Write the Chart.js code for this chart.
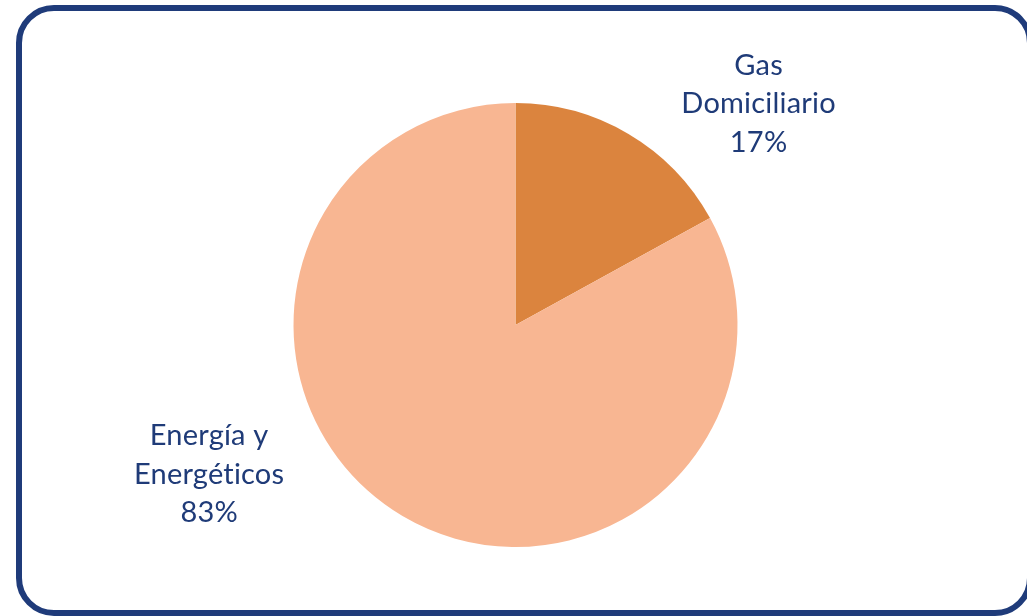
<!DOCTYPE html>
<html>
<head>
<meta charset="utf-8">
<script src="https://cdn.jsdelivr.net/npm/chart.js@4.4.1/dist/chart.umd.min.js"></script>
<style>
    html, body { margin: 0; padding: 0; background: #ffffff; overflow: hidden; }
    #frame {
        position: absolute; left: 16px; top: 5px;
        width: 1005px; height: 599px;
        border: 6px solid #1f3b7a; border-radius: 38px;
    }
    #wrap { position: absolute; left: 0; top: 0; width: 1027px; height: 616px; }
</style>
</head>
<body>
<div id="frame"></div>
<div id="wrap"><canvas id="pie-chart" width="1027" height="616"></canvas></div>
<script>
const categories = ["Gas Domiciliario", "Energía y Energéticos"];
const labelLines = [["Gas", "Domiciliario"], ["Energía y", "Energéticos"]];
const shares = [17, 83];
const sliceColors = ["#db843e", "#f8b692"];

// label placement relative to pie centre, in units of the radius
const labelOffsets = [[1.095, -1.17], [-1.38, 0.5]];

const outsideLabels = {
    id: "outsideLabels",
    afterDatasetsDraw(chart) {
        const ctx = chart.ctx;
        const meta = chart.getDatasetMeta(0);
        ctx.save();
        ctx.font = "29px Lato";
        // a tiny spacing keeps Lato from joining "ti" into a ligature
        ctx.letterSpacing = "0.2px";
        ctx.fillStyle = "#1f3b78";
        ctx.textAlign = "center";
        ctx.textBaseline = "middle";
        meta.data.forEach((arc, i) => {
            const r = arc.outerRadius;
            const x = arc.x + labelOffsets[i][0] * r;
            let y = arc.y + labelOffsets[i][1] * r;
            const lines = labelLines[i].concat([shares[i] + "%"]);
            lines.forEach(line => {
                ctx.fillText(line, x, y);
                y += 38.5;
            });
        });
        ctx.restore();
    }
};

const ctx_pie = document.getElementById("pie-chart").getContext("2d");
const pie_chart = new Chart(ctx_pie, {
    type: "pie",
    data: {
        labels: categories,
        datasets: [{
            data: shares,
            backgroundColor: sliceColors,
            borderWidth: 0,
        }]
    },
    options: {
        responsive: false,
        animation: false,
        layout: {
            padding: { top: 103, bottom: 69, left: 293, right: 289 }
        },
        plugins: {
            legend: { display: false },
            tooltip: { enabled: false },
        }
    },
    plugins: [outsideLabels]
});
</script>
</body>
</html>
